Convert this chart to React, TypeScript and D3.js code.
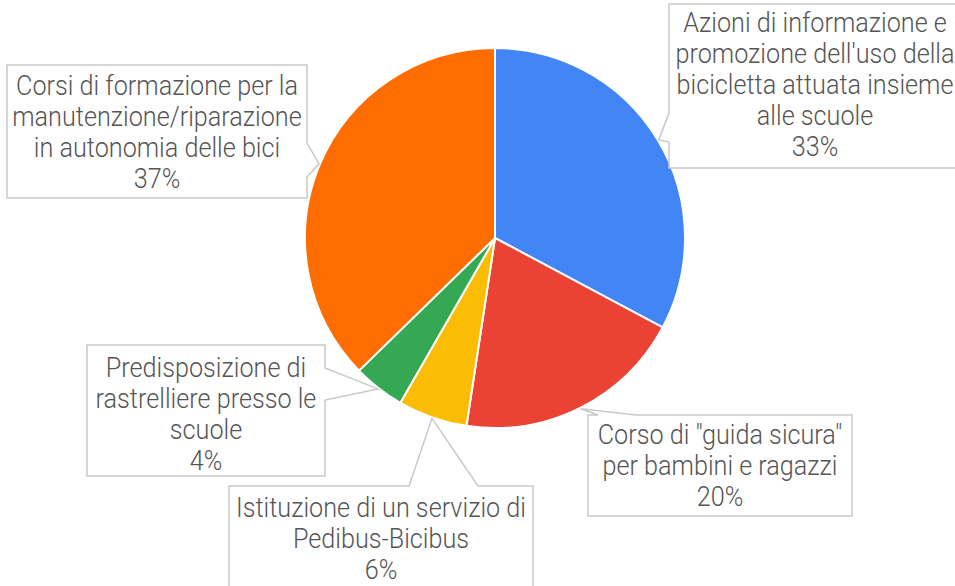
import * as d3 from 'd3';

// slice data, clockwise from 12 o'clock
const categories = [
  "Azioni di informazione e promozione dell'uso della bicicletta attuata insieme alle scuole",
  'Corso di "guida sicura" per bambini e ragazzi',
  'Istituzione di un servizio di Pedibus-Bicibus',
  'Predisposizione di rastrelliere presso le scuole',
  'Corsi di formazione per la manutenzione/riparazione in autonomia delle bici',
];
const values = [32.8, 19.6, 5.9, 4.4, 37.3];
const colors = ['#4285f4', '#ea4335', '#fbbc04', '#34a853', '#ff6d01'];

// how each label wraps in its callout
const labelLines = [
  ['Azioni di informazione e', "promozione dell'uso della", 'bicicletta attuata insieme', 'alle scuole'],
  ['Corso di "guida sicura"', 'per bambini e ragazzi'],
  ['Istituzione di un servizio di', 'Pedibus-Bicibus'],
  ['Predisposizione di', 'rastrelliere presso le', 'scuole'],
  ['Corsi di formazione per la', 'manutenzione/riparazione', 'in autonomia delle bici'],
];

// callout boxes: x, y, w, h, which edge has the pointer and where the notch sits on it
const boxes = [
  { x: 669, y: 4, w: 294, h: 164, side: 'left', n: [113, 142], base: 32 },
  { x: 588, y: 415, w: 264, h: 101, side: 'top', n: [598, 636], base: 444 },
  { x: 229, y: 486, w: 304, h: 110, side: 'top', n: [409, 478], base: 517 },
  { x: 87, y: 345, w: 238, h: 131, side: 'right', n: [368, 400], base: 377 },
  { x: 7, y: 65, w: 300, h: 133, side: 'right', n: [143, 177], base: 95 },
];

const W = 955;
const H = 586;
const cx = 495;
const cy = 238;
const r = 190;
const lineH = 31;

function calloutPath(b, tip) {
  const [a, c] = b.n;
  const p = d3.path();
  p.moveTo(b.x, b.y);
  if (b.side === 'top') {
    p.lineTo(a, b.y);
    p.lineTo(tip[0], tip[1]);
    p.lineTo(c, b.y);
  }
  p.lineTo(b.x + b.w, b.y);
  if (b.side === 'right') {
    p.lineTo(b.x + b.w, a);
    p.lineTo(tip[0], tip[1]);
    p.lineTo(b.x + b.w, c);
  }
  p.lineTo(b.x + b.w, b.y + b.h);
  p.lineTo(b.x, b.y + b.h);
  if (b.side === 'left') {
    p.lineTo(b.x, c);
    p.lineTo(tip[0], tip[1]);
    p.lineTo(b.x, a);
  }
  p.closePath();
  return p.toString();
}

export default function App() {
  const pie = d3.pie<number>().sort(null).value((d) => d);
  const arcs = pie(values);
  const arc = d3.arc<d3.PieArcDatum<number>>().innerRadius(0).outerRadius(r);
  const edge = d3.arc<d3.PieArcDatum<number>>().innerRadius(r + 1).outerRadius(r + 1);
  const total = d3.sum(values);

  return (
    <svg
      width={W}
      height={H}
      style={{ position: 'absolute', left: 0, top: 0, background: '#fff' }}
      fontFamily="Roboto, sans-serif"
    >
      <g transform={`translate(${cx},${cy})`}>
        {arcs.map((a, i) => (
          <path key={i} d={arc(a) || ''} fill={colors[i]} stroke="#fff" strokeWidth={2} />
        ))}
      </g>
      {arcs.map((a, i) => {
        const b = boxes[i];
        const c = edge.centroid(a);
        const tip: [number, number] = [cx + c[0], cy + c[1]];
        const lines = [...labelLines[i], `${Math.round((values[i] / total) * 100)}%`];
        const mx = b.x + b.w / 2 + (i === 0 ? -1 : 0);
        return (
          <g key={'l' + i}>
            <path d={calloutPath(b, tip)} fill="#fff" stroke="#c9c9c9" strokeWidth={1.5} />
            <g transform={`translate(${mx},0) scale(0.9,1)`}>
              {lines.map((t, j) => (
                <text
                  key={j}
                  x={0}
                  y={b.base + j * lineH}
                  textAnchor="middle"
                  fontSize={28}
                  fontWeight={300}
                  fill="#555"
                >
                  {t}
                </text>
              ))}
            </g>
          </g>
        );
      })}
    </svg>
  );
}
